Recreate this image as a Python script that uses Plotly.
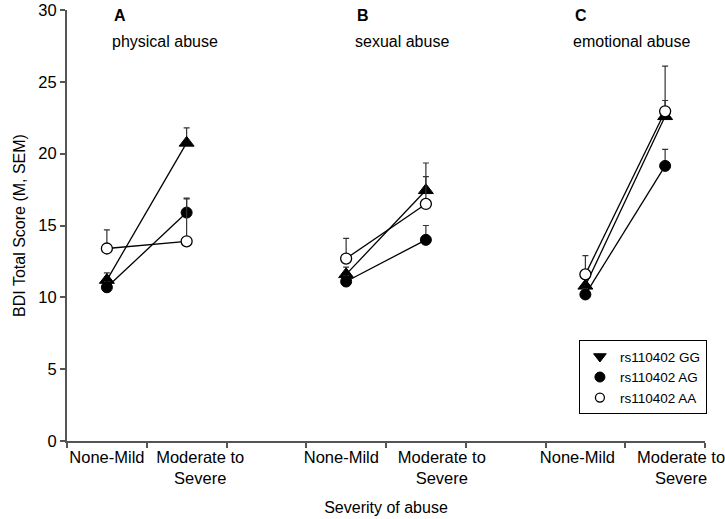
import plotly.graph_objects as go

# ---- data ----
panels = ["physical abuse", "sexual abuse", "emotional abuse"]
panel_letters = ["A", "B", "C"]
categories = ["None-Mild", "Moderate to<br>Severe"]

series_names = ["rs110402 GG", "rs110402 AG", "rs110402 AA"]
# means per panel: [none-mild, moderate-severe]
gg_mean = [[11.2, 20.75], [11.6, 17.45], [10.8, 22.6]]
ag_mean = [[10.7, 15.9], [11.1, 14.0], [10.2, 19.15]]
aa_mean = [[13.4, 13.9], [12.7, 16.5], [11.6, 22.95]]
gg_sem = [[0.5, 1.05], [0.5, 1.9], [0.5, 1.1]]
ag_sem = [[0.4, 1.0], [0.4, 1.0], [0.4, 1.15]]
aa_sem = [[1.3, 2.95], [1.4, 1.9], [1.3, 3.15]]

y_ticks = [0, 5, 10, 15, 20, 25, 30]

# ---- positions via category slots (one blank slot between panels) ----
def slot(p, c):
    return 3 * p + c + 0.5

# label placement offsets (layout only)
label_offset = [[0.0, 0.17], [-0.06, 0.2], [-0.1, 0.2]]

def build(mean, sem):
    xs, ys, es = [], [], []
    for p in range(len(panels)):
        for c in range(len(categories)):
            xs.append(slot(p, c)); ys.append(mean[p][c]); es.append(sem[p][c])
        xs.append(None); ys.append(None); es.append(0)
    return xs, ys, es

fig = go.Figure()

styles = [
    dict(symbol="triangle-up", size=13, color="black", line=dict(color="black", width=1)),
    dict(symbol="circle", size=11, color="black", line=dict(color="black", width=1)),
    dict(symbol="circle", size=11, color="white", line=dict(color="black", width=1.3)),
]
legend_styles = [
    dict(symbol="triangle-down", size=11, color="black", line=dict(color="black", width=1)),
    dict(symbol="circle", size=10, color="black", line=dict(color="black", width=1)),
    dict(symbol="circle", size=9, color="white", line=dict(color="black", width=1.3)),
]

data = [(gg_mean, gg_sem), (ag_mean, ag_sem), (aa_mean, aa_sem)]
for name, (m, s), st in zip(series_names, data, styles):
    xs, ys, es = build(m, s)
    fig.add_trace(go.Scatter(
        x=xs, y=ys, mode="lines+markers", name=name, showlegend=False,
        line=dict(color="black", width=1.3), marker=st, connectgaps=False,
        error_y=dict(type="data", symmetric=False, array=es,
                     arrayminus=[0] * len(es), color="#333333",
                     thickness=1.2, width=3),
    ))

for name, st in zip(series_names, legend_styles):
    fig.add_trace(go.Scatter(x=[None], y=[None], mode="markers", name=name,
                             marker=st, showlegend=True))

tickvals = [slot(p, c) + label_offset[p][c] for p in range(len(panels)) for c in range(len(categories))]
ticktext = [categories[c] for p in range(len(panels)) for c in range(len(categories))]

font = "Liberation Sans, Arial, sans-serif"
fig.update_layout(
    width=725, height=519,
    margin=dict(l=67, r=20, t=10, b=78),
    paper_bgcolor="white", plot_bgcolor="white",
    font=dict(family=font, size=16, color="black"),
    showlegend=True,
    legend=dict(x=1.003, y=0.148, xanchor="right", yanchor="middle",
                bordercolor="black", borderwidth=1, bgcolor="white",
                font=dict(size=13.5), tracegroupgap=0, itemwidth=30,
                traceorder="normal"),
    xaxis=dict(range=[0, 8], tickvals=tickvals, ticktext=ticktext,
               ticks="", showgrid=False, zeroline=False, tickangle=0,
               automargin=False, ticklabeloverflow="allow",
               showline=True, linecolor="#555555", linewidth=2,
               tickfont=dict(size=16.5),
               minor=dict(tickvals=list(range(0, 9)), ticks="outside",
                          ticklen=5, tickcolor="#555555", tickwidth=1.5,
                          showgrid=False),
               title=dict(text="Severity of abuse", font=dict(size=16), standoff=16)),
    yaxis=dict(range=[0, 30], tickvals=y_ticks, ticks="outside", ticklen=5,
               tickcolor="#555555", tickwidth=1.5, showgrid=False, zeroline=False,
               automargin=False, ticklabeloverflow="allow",
               showline=True, linecolor="#555555", linewidth=2,
               tickfont=dict(size=16.5),
               title=dict(text="BDI Total Score (M, SEM)", font=dict(size=16), standoff=9)),
)

letter_x = [0.56, 3.61, 6.34]
for p in range(len(panels)):
    fig.add_annotation(x=letter_x[p], y=29.6, xref="x", yref="y", text="<b>%s</b>" % panel_letters[p],
                       showarrow=False, xanchor="left", yanchor="middle", font=dict(size=16))
    fig.add_annotation(x=letter_x[p] - 0.02 if p < 2 else letter_x[p] - 0.02, y=27.8, xref="x", yref="y",
                       text=panels[p], showarrow=False, xanchor="left", yanchor="middle",
                       font=dict(size=16))

fig.write_html("out.html", config={"displayModeBar": False},
               post_script="document.body.style.margin='0px';")
